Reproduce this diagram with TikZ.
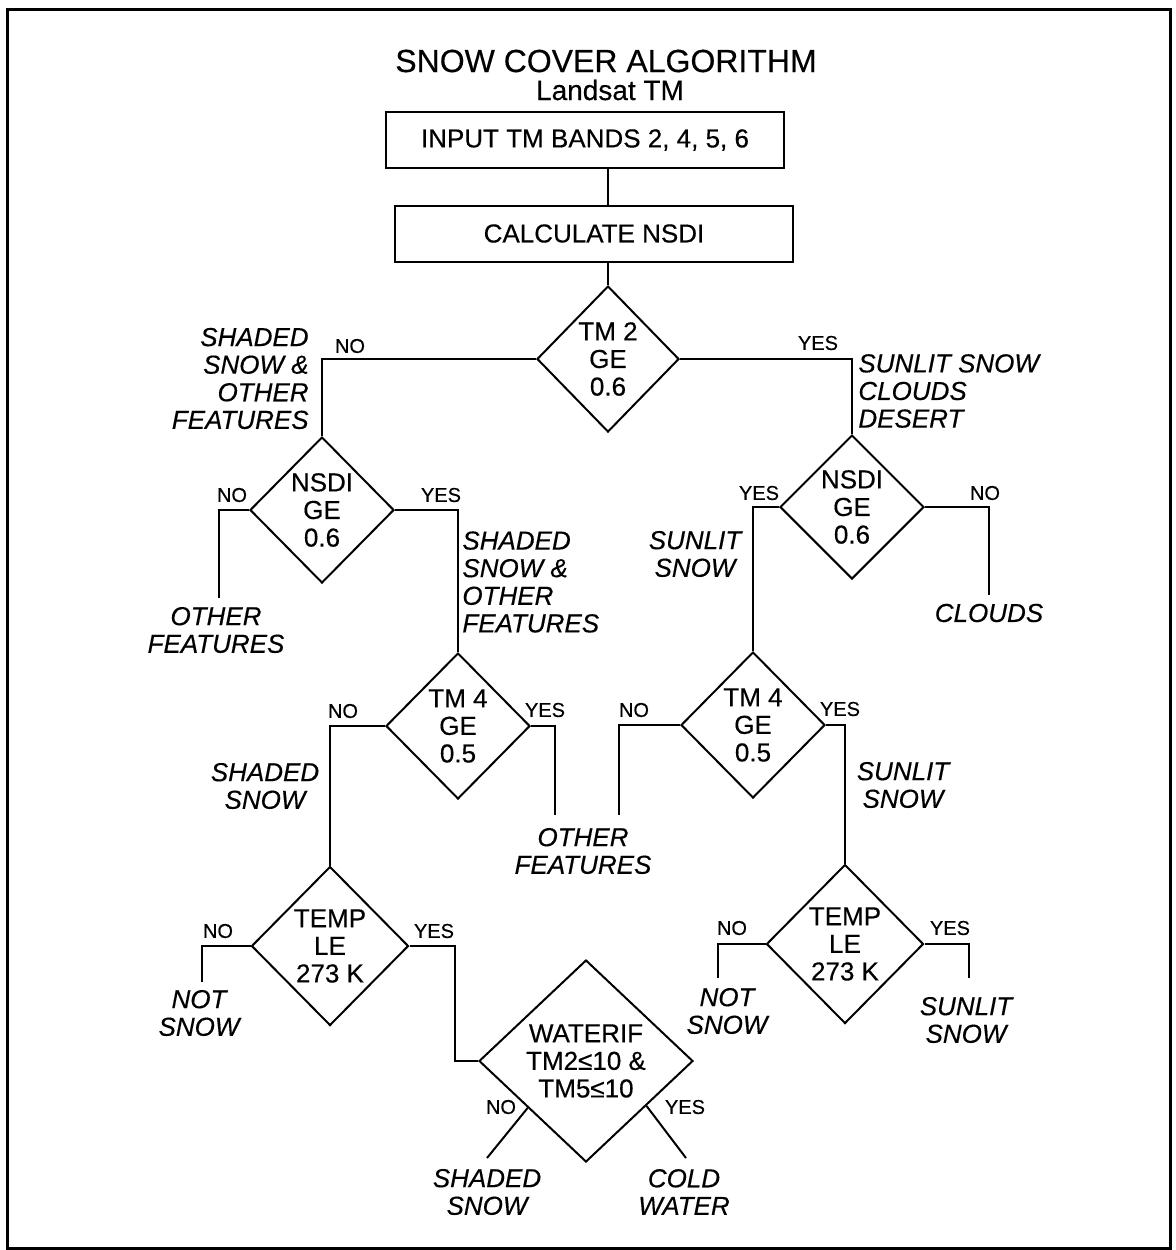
\documentclass[tikz,border=0pt]{standalone}
\usepackage{fontspec}
\setmainfont{Liberation Sans}[FakeBold=0.35]
\usetikzlibrary{positioning,calc,shapes.geometric}
\newcommand{\dfont}{\fontsize{13}{13.8}\selectfont}
\newcommand{\ynfont}{\fontsize{10}{11}\selectfont}
\tikzset{dproc/.style={draw, line width=1pt, minimum width=199pt, minimum height=28pt, inner sep=0pt, font=\dfont}}
\tikzset{dcond/.style={diamond, draw, line width=1pt, inner sep=0pt, align=center, minimum width=72pt, minimum height=73pt, font=\dfont}}
\tikzset{dtemp/.style={dcond, minimum width=78.5pt, minimum height=79.5pt}}
\tikzset{ans/.style={align=center, inner sep=0pt, font=\dfont\itshape}}
\tikzset{yn/.style={inner sep=0pt, font=\ynfont}}
\tikzset{lnk/.style={draw, line width=1pt}}

\begin{document}
\begin{tikzpicture}[x=0.5pt, y=-0.5pt]
			\useasboundingbox (0,0) rectangle (1175,1250);
			\draw[line width=1.5pt] (7,9) rectangle (1170,1248);
			\node[font=\fontsize{16}{18}\selectfont] (ttl) at (606,61) {SNOW COVER ALGORITHM};
			\node[font=\fontsize{14}{15}\selectfont] (sub) at (610,90) {Landsat TM};
			\node[dproc] (inp) at (585,140) {INPUT TM BANDS 2, 4, 5, 6};
			\node[dproc] (calc) at (594,233.5) {CALCULATE NSDI};

			\node[dcond, minimum width=71pt] (tm2) at (608,359) {TM 2\\GE\\0.6};
			\node[dcond] (nsdiL) at (322,510) {NSDI\\GE\\0.6};
			\node[dcond, minimum height=72pt] (nsdiR) at (852,507) {NSDI\\GE\\0.6};
			\node[dcond] (tm4L) at (458,726) {TM 4\\GE\\0.5};
			\node[dcond] (tm4R) at (753,725) {TM 4\\GE\\0.5};
			\node[dtemp] (tempL) at (330,946) {TEMP\\LE\\273 K};
			\node[dtemp] (tempR) at (845,944) {TEMP\\LE\\273 K};
			\node[dcond, minimum width=107pt, minimum height=101pt] (water) at (586,1061)
				{WATERIF\\TM2≤10 \&\\TM5≤10};

			\coordinate (ofL) at (219,598);
			\coordinate (cldE) at (989,595);
			\coordinate (ofM1) at (555,815);
			\coordinate (ofM2) at (619,815);
			\coordinate (nsL) at (202,982);
			\coordinate (nsR) at (718,978);
			\coordinate (ssR) at (969,978);
			\coordinate (ssW) at (487,1158);
			\coordinate (cwE) at (686,1158);

			\draw[lnk] (tm2.north |- inp.south) -- (tm2.north |- calc.north);
			\draw[lnk] (tm2.north |- calc.south) -- (tm2.north);
			\draw[lnk] (tm2.west) -| (nsdiL.north);
			\draw[lnk] (tm2.east) -| (nsdiR.north);
			\draw[lnk] (nsdiL.west) -| (ofL);
			\draw[lnk] (nsdiL.east) -| (tm4L.north);
			\draw[lnk] (nsdiR.west) -| (tm4R.north);
			\draw[lnk] (nsdiR.east) -| (cldE);
			\draw[lnk] (tm4L.west) -| (tempL.north);
			\draw[lnk] (tm4L.east) -| (ofM1);
			\draw[lnk] (tm4R.west) -| (ofM2);
			\draw[lnk] (tm4R.east) -| (tempR.north);
			\draw[lnk] (tempL.west) -| (nsL);
			\draw[lnk] (tempL.east) -- ++(45,0) |- (water.west);
			\draw[lnk] (tempR.west) -| (nsR);
			\draw[lnk] (tempR.east) -| (ssR);
			\draw[lnk] ($(water.west)!0.46!(water.south)$) -- (ssW);
			\draw[lnk] ($(water.east)!0.44!(water.south)$) -- (cwE);

			\node[yn] (n1) at (350,346) {NO};
			\node[yn] (y1) at (818,343) {YES};
			\node[yn] (n2) at (232,495) {NO};
			\node[yn] (y2) at (441,495) {YES};
			\node[yn] (y3) at (759,493) {YES};
			\node[yn] (n3) at (985,493) {NO};
			\node[yn] (n4) at (343,711) {NO};
			\node[yn] (y4) at (545,710) {YES};
			\node[yn] (n5) at (634,710) {NO};
			\node[yn] (y5) at (840,709) {YES};
			\node[yn] (n6) at (218,931) {NO};
			\node[yn] (y6) at (434,931) {YES};
			\node[yn] (n7) at (732,928) {NO};
			\node[yn] (y7) at (950,928) {YES};
			\node[yn] (n8) at (501,1107) {NO};
			\node[yn] (y8) at (685,1107) {YES};

			\node[ans, align=right, anchor=east] (shA) at (309,378.5) {SHADED\\SNOW \&\\OTHER\\FEATURES};
			\node[ans, align=left, anchor=west] (suA) at (858,391) {SUNLIT SNOW\\CLOUDS\\DESERT};
			\node[ans] (ofA) at (216,630) {OTHER\\FEATURES};
			\node[ans, align=left, anchor=west] (shB) at (462,582) {SHADED\\SNOW \&\\OTHER\\FEATURES};
			\node[ans] (suB) at (695,554) {SUNLIT\\SNOW};
			\node[ans] (cld) at (989,613) {CLOUDS};
			\node[ans] (shC) at (265,786) {SHADED\\SNOW};
			\node[ans] (ofB) at (583,851) {OTHER\\FEATURES};
			\node[ans] (suC) at (903,785) {SUNLIT\\SNOW};
			\node[ans] (nsA) at (199,1013) {NOT\\SNOW};
			\node[ans] (nsB) at (727,1011) {NOT\\SNOW};
			\node[ans] (suD) at (966,1020) {SUNLIT\\SNOW};
			\node[ans] (shD) at (487,1192) {SHADED\\SNOW};
			\node[ans] (cwat) at (684,1192) {COLD\\WATER};
		\end{tikzpicture}
\end{document}
